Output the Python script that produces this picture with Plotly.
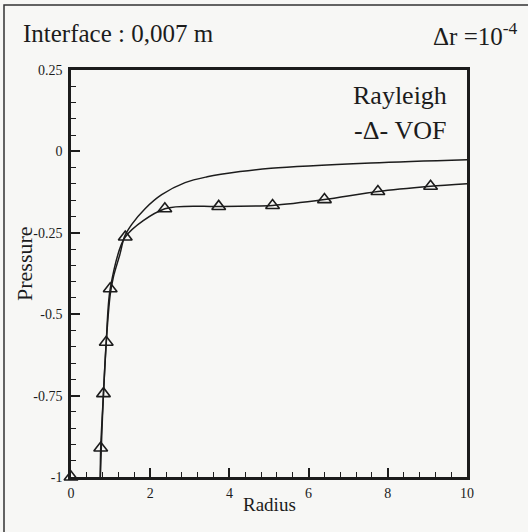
import plotly.graph_objects as go

# Rayleigh solution (line only)
ray_x = [0.74, 0.78, 0.82, 0.89, 0.99, 1.07, 1.24, 1.35, 1.53, 1.87, 2.29, 2.88, 3.44, 4.27, 5.05, 7.57, 10.0]
ray_y = [-1.0, -0.86, -0.744, -0.586, -0.44, -0.386, -0.314, -0.262, -0.225, -0.176, -0.133, -0.096, -0.078, -0.062, -0.052, -0.036, -0.026]

# VOF results (markers joined by a line)
vof_x = [0.74, 0.75, 0.82, 0.89, 0.99, 1.37, 2.37, 3.73, 5.09, 6.40, 7.75, 9.08, 10.0]
vof_y = [-1.0, -0.911, -0.744, -0.586, -0.422, -0.263, -0.176, -0.169, -0.166, -0.148, -0.123, -0.107, -0.099]
vof_mx = [0.0, 0.75, 0.82, 0.89, 0.99, 1.37, 2.37, 3.73, 5.09, 6.40, 7.75, 9.08]
vof_my = [-1.0, -0.911, -0.744, -0.586, -0.422, -0.263, -0.176, -0.169, -0.166, -0.148, -0.123, -0.107]

y_tickvals = [0.25, 0, -0.25, -0.5, -0.75, -1]
y_ticktext = ["0.25", "0", "-0.25", "-0.5", "-0.75", "-1"]
x_tickvals = [0, 2, 4, 6, 8, 10]

FONT = "Liberation Serif, Times New Roman, serif"
INK = "#1c1c1c"
BG = "#f7f7f5"

W, H = 528, 532
L, R, T, B = 71, 61, 70, 55
pw, ph = W - L - R, H - T - B

def px(xp):
    return (xp - L) / pw

def py(yp):
    return (H - B - yp) / ph

fig = go.Figure()
fig.add_trace(go.Scatter(x=ray_x, y=ray_y, mode="lines",
                         line=dict(color=INK, width=1.5, shape="spline", smoothing=1.0),
                         showlegend=False, hoverinfo="skip"))
fig.add_trace(go.Scatter(x=vof_x, y=vof_y, mode="lines",
                         line=dict(color=INK, width=1.5, shape="spline", smoothing=0.8),
                         showlegend=False, hoverinfo="skip"))
fig.add_trace(go.Scatter(x=vof_mx, y=vof_my, mode="markers", cliponaxis=False,
                         marker=dict(symbol="triangle-up-open", size=12, color=INK,
                                     line=dict(width=1.6, color=INK)),
                         showlegend=False))

fig.update_layout(
    width=W, height=H,
    margin=dict(l=L, r=R, t=T, b=B),
    paper_bgcolor=BG, plot_bgcolor=BG,
    font=dict(family=FONT, color=INK, size=14),
    xaxis=dict(range=[0, 10], tickvals=x_tickvals, ticks="inside", ticklen=9, tickwidth=2,
               tickcolor=INK, showline=True, linecolor=INK, linewidth=2.5, mirror=True,
               showgrid=False, zeroline=False, tickfont=dict(size=14, family=FONT, color=INK),
               ticklabelstandoff=1,
               minor=dict(dtick=0.4, tick0=0, ticks="inside", ticklen=5, tickwidth=1.2,
                          tickcolor=INK, showgrid=False)),
    yaxis=dict(range=[-1, 0.25], tickvals=y_tickvals, ticktext=y_ticktext, ticks="inside",
               ticklen=9, tickwidth=2, tickcolor=INK, showline=True, linecolor=INK,
               linewidth=2.5, mirror=True, showgrid=False, zeroline=False,
               tickfont=dict(size=14, family=FONT, color=INK), ticklabelstandoff=3,
               minor=dict(dtick=0.05, tick0=0, ticks="inside", ticklen=5, tickwidth=1.2,
                          tickcolor=INK, showgrid=False)),
    shapes=[dict(type="rect", xref="paper", yref="paper",
                 x0=px(4), x1=px(540), y0=py(545), y1=py(5),
                 line=dict(color="#333333", width=1.5), layer="below")],
    annotations=[
        dict(text="Interface : 0,007 m", x=px(21), y=py(34), xref="paper", yref="paper",
             xanchor="left", yanchor="middle", showarrow=False, font=dict(size=25)),
        dict(text="Δr =10<sup>-4</sup>", x=px(520), y=py(34), xref="paper", yref="paper",
             xanchor="right", yanchor="middle", showarrow=False, font=dict(size=25)),
        dict(text="Rayleigh", x=px(449), y=py(96), xref="paper", yref="paper",
             xanchor="right", yanchor="middle", showarrow=False, font=dict(size=26)),
        dict(text="-Δ- VOF", x=px(449), y=py(130), xref="paper", yref="paper",
             xanchor="right", yanchor="middle", showarrow=False, font=dict(size=26)),
        dict(text="Radius", x=px(269), y=py(505), xref="paper", yref="paper",
             xanchor="center", yanchor="middle", showarrow=False, font=dict(size=19)),
        dict(text="Pressure", x=px(24), y=py(264), xref="paper", yref="paper",
             xanchor="center", yanchor="middle", showarrow=False, textangle=-90,
             font=dict(size=22)),
    ],
)

fig.write_html("out.html", config={"displayModeBar": False},
               post_script="document.body.style.margin='0';document.body.style.overflow='hidden';")
